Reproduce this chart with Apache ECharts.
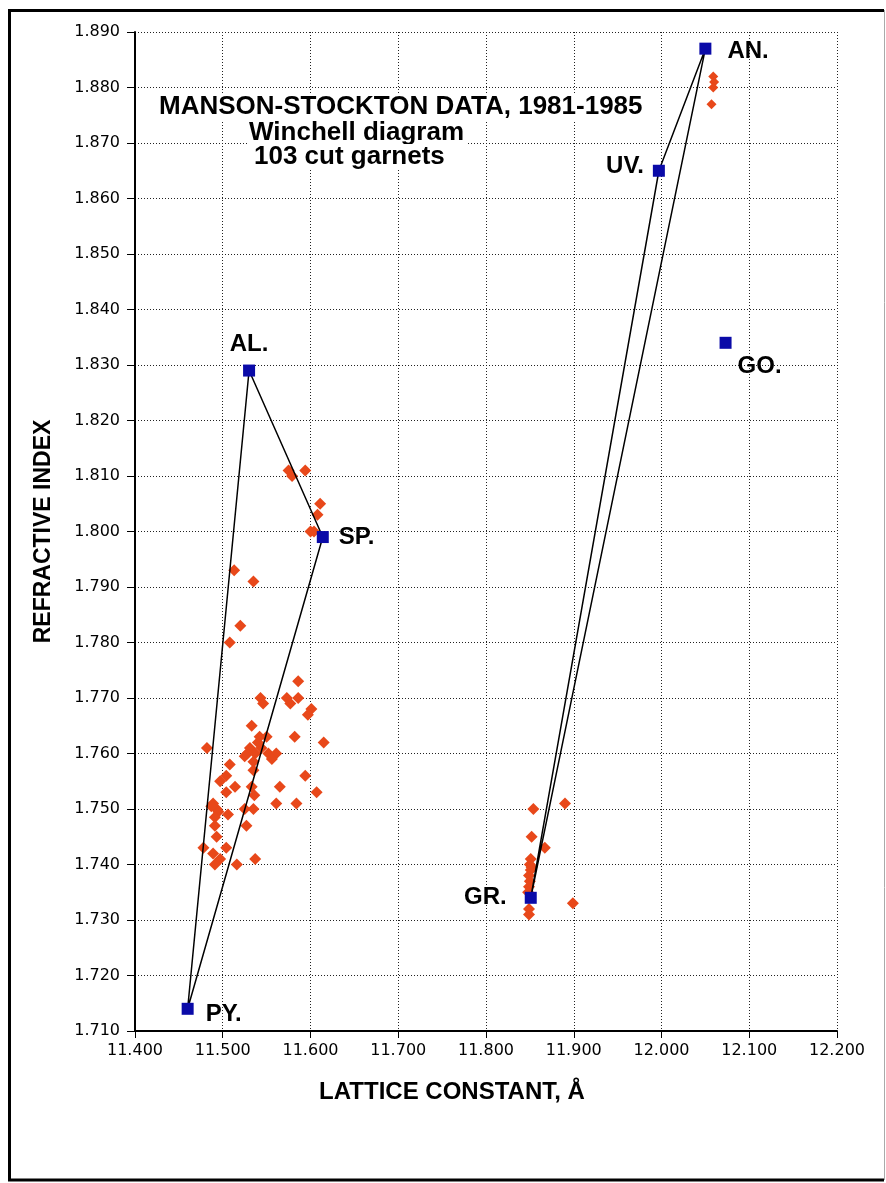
<!DOCTYPE html>
<html>
<head>
<meta charset="utf-8">
<script src="https://cdn.jsdelivr.net/npm/echarts@6/dist/echarts.min.js"></script>
<style>
html,body{margin:0;padding:0;background:#fff;}
#chart{width:886px;height:1183px;}
</style>
</head>
<body>
<div id="chart"></div>
<script>
// ---------- DATA ----------
const xTickLabels = ['11.400','11.500','11.600','11.700','11.800','11.900','12.000','12.100','12.200'];
const yTickLabels = ['1.710','1.720','1.730','1.740','1.750','1.760','1.770','1.780','1.790','1.800','1.810','1.820','1.830','1.840','1.850','1.860','1.870','1.880','1.890'];

const titleLines = ['MANSON-STOCKTON DATA, 1981-1985', 'Winchell diagram', '103 cut garnets'];
const xAxisTitle = 'LATTICE CONSTANT, Å';
const yAxisTitle = 'REFRACTIVE INDEX';

// end members
const memberNames = ['AN.', 'UV.', 'GO.', 'AL.', 'SP.', 'GR.', 'PY.'];
const memberX = [12.050, 11.997, 12.073, 11.530, 11.614, 11.851, 11.460];
const memberY = [1.887, 1.865, 1.834, 1.829, 1.799, 1.734, 1.714];

// tie-line triangles (by member name)
const pyralspiteTriangle = ['PY.', 'AL.', 'SP.', 'PY.'];
const granditeTriangle = ['GR.', 'AN.', 'UV.', 'GR.'];

// measured cut garnets [lattice constant, refractive index]
const pyralspiteGarnets = [
  [11.575,1.811],[11.579,1.810],[11.594,1.811],[11.611,1.805],[11.608,1.803],[11.600,1.800],[11.604,1.800],
  [11.513,1.793],[11.535,1.791],[11.520,1.783],[11.508,1.780],[11.586,1.773],
  [11.543,1.770],[11.546,1.769],[11.573,1.770],[11.577,1.769],[11.586,1.770],[11.601,1.768],[11.597,1.767],
  [11.533,1.765],[11.542,1.763],[11.550,1.763],[11.582,1.763],[11.615,1.762],[11.482,1.761],
  [11.531,1.761],[11.537,1.760],[11.525,1.7595],[11.544,1.761],[11.552,1.760],[11.561,1.760],[11.556,1.759],[11.540,1.762],[11.528,1.760],[11.535,1.7585],
  [11.535,1.757],[11.594,1.756],[11.508,1.758],[11.504,1.756],[11.497,1.755],[11.514,1.754],[11.504,1.753],[11.533,1.754],[11.565,1.754],[11.607,1.753],[11.536,1.7525],
  [11.561,1.751],[11.584,1.751],
  [11.489,1.751],[11.493,1.750],[11.487,1.7505],[11.495,1.7495],[11.491,1.7485],[11.506,1.749],[11.525,1.750],[11.535,1.750],
  [11.527,1.747],[11.491,1.747],[11.493,1.745],
  [11.478,1.743],[11.504,1.743],[11.489,1.742],[11.497,1.741],[11.491,1.740],[11.516,1.740],[11.537,1.741]
];
const grossularGarnets = [
  [11.854,1.750],[11.890,1.751],[11.852,1.745],[11.867,1.743],[11.851,1.741],[11.850,1.740],[11.852,1.7395],
  [11.851,1.739],[11.849,1.738],[11.850,1.737],[11.849,1.736],[11.848,1.735],[11.899,1.733],[11.849,1.732],[11.849,1.731]
];
const andraditeGarnets = [
  [12.059,1.882],[12.060,1.881],[12.059,1.880],[12.057,1.877]
];

// ---------- BUILD ----------
const xMin = 11.4, xMax = 12.2, xStep = 0.1;
const yMin = 1.71, yMax = 1.89, yStep = 0.01;

function memberPoint(name) {
  const i = memberNames.indexOf(name);
  return [memberX[i], memberY[i]];
}

const labelStyles = {
  'AN.': { position: 'right', distance: 16, offset: [0, 3] },
  'UV.': { position: 'left', distance: 9, offset: [0, -4] },
  'GO.': { position: [18, 30], align: 'left', verticalAlign: 'middle' },
  'AL.': { position: 'top', distance: 8 },
  'SP.': { position: 'right', distance: 10 },
  'GR.': { position: 'left', distance: 18 },
  'PY.': { position: 'right', distance: 12, offset: [0, 6] }
};

const boldFam = '"Liberation Sans", Arial, Helvetica, sans-serif';
const tickFam = '"DejaVu Sans", "Liberation Sans", sans-serif';

const memberData = memberNames.map((n, i) => ({
  value: [memberX[i], memberY[i]],
  name: n,
  label: Object.assign({ show: true, formatter: n, color: '#000', fontFamily: boldFam, fontWeight: 'bold', fontSize: 24 }, labelStyles[n])
}));

const gridStyle = { color: '#222', type: [1, 2], width: 1 };

const chart = echarts.init(document.getElementById('chart'), null, { renderer: 'canvas' });

const option = {
  backgroundColor: '#fff',
  animation: false,
  grid: { left: 135, top: 32, width: 702, height: 999 },
  xAxis: {
    type: 'value', min: xMin, max: xMax, interval: xStep,
    axisLine: { show: true, onZero: false, lineStyle: { color: '#000', width: 2 } },
    axisTick: { show: true, length: 7, lineStyle: { color: '#000', width: 1 } },
    axisLabel: {
      fontFamily: tickFam, fontSize: 16, color: '#000', margin: 12,
      formatter: v => xTickLabels[Math.round((v - xMin) / xStep)] || ''
    },
    splitLine: { show: true, lineStyle: gridStyle }
  },
  yAxis: {
    type: 'value', min: yMin, max: yMax, interval: yStep,
    name: yAxisTitle, nameLocation: 'middle', nameGap: 80, nameRotate: 90,
    nameTextStyle: { fontFamily: boldFam, fontWeight: 'bold', fontSize: 23, color: '#000' },
    axisLine: { show: true, onZero: false, lineStyle: { color: '#000', width: 2 } },
    axisTick: { show: true, length: 8, lineStyle: { color: '#000', width: 1 } },
    axisLabel: {
      fontFamily: tickFam, fontSize: 16, color: '#000', margin: 15,
      formatter: v => yTickLabels[Math.round((v - yMin) / yStep)] || ''
    },
    splitLine: { show: true, lineStyle: gridStyle }
  },
  series: [
    {
      name: 'Cut garnets', type: 'scatter', symbol: 'diamond', symbolSize: 12, z: 2,
      itemStyle: { color: '#e8481a', opacity: 1 },
      data: pyralspiteGarnets.concat(grossularGarnets)
    },
    {
      name: 'Cut garnets (andradite)', type: 'scatter', symbol: 'diamond', symbolSize: 10, z: 2,
      itemStyle: { color: '#e8481a', opacity: 1 },
      data: andraditeGarnets
    },
    {
      name: 'Pyralspite', type: 'line', z: 3, showSymbol: false, symbol: 'none',
      lineStyle: { color: '#000', width: 1.5 },
      data: pyralspiteTriangle.map(memberPoint)
    },
    {
      name: 'Grandite', type: 'line', z: 3, showSymbol: false, symbol: 'none',
      lineStyle: { color: '#000', width: 1.5 },
      data: granditeTriangle.map(memberPoint)
    },
    {
      name: 'End members', type: 'scatter', symbol: 'rect', symbolSize: 12, z: 4,
      itemStyle: { color: '#0a0aa8', opacity: 1 },
      data: memberData
    }
  ],
  graphic: [
    { type: 'text', z: 10, x: 157, y: 107, style: { text: titleLines[0], font: 'bold 26px ' + boldFam, fill: '#000', verticalAlign: 'middle', backgroundColor: '#fff', padding: [0, 2] } },
    { type: 'text', z: 10, x: 247, y: 133, style: { text: titleLines[1], font: 'bold 26px ' + boldFam, fill: '#000', verticalAlign: 'middle', backgroundColor: '#fff', padding: [0, 2] } },
    { type: 'text', z: 10, x: 252, y: 157, style: { text: titleLines[2], font: 'bold 26px ' + boldFam, fill: '#000', verticalAlign: 'middle', backgroundColor: '#fff', padding: [0, 2] } },
    { type: 'text', z: 10, x: 452, y: 1092, style: { text: xAxisTitle, font: 'bold 24px ' + boldFam, fill: '#000', align: 'center', verticalAlign: 'middle' } },
    { type: 'polyline', z: 10, shape: { points: [[884, 10.5], [9.5, 10.5], [9.5, 1180], [884, 1180]] }, style: { stroke: '#000', lineWidth: 3, fill: 'none' } },
    { type: 'line', z: 10, shape: { x1: 884.5, y1: 10, x2: 884.5, y2: 1180 }, style: { stroke: '#aaa', lineWidth: 1 } }
  ]
};
chart.setOption(option);
</script>
</body>
</html>
